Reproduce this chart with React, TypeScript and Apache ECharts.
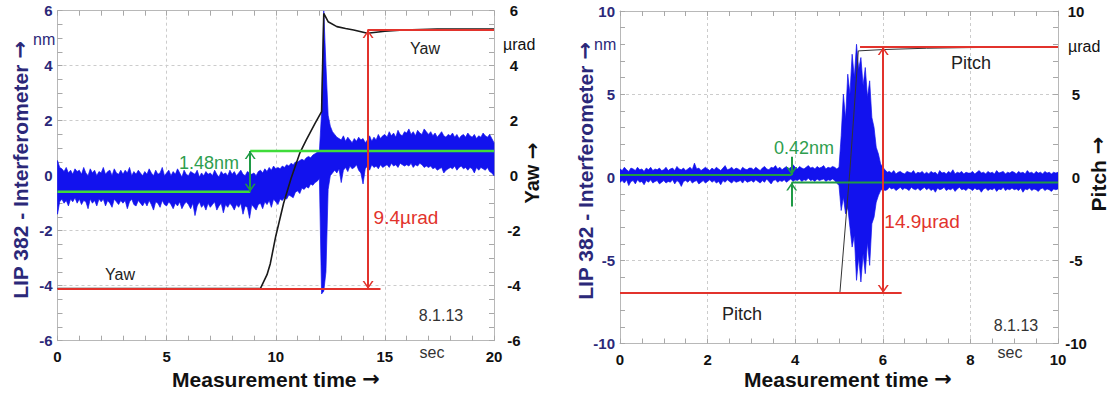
import React, { useEffect, useRef } from 'react';
import * as echarts from 'echarts';

const FONT = '"Liberation Sans", Arial, Helvetica, sans-serif';
const ARROW_FONT = '"DejaVu Sans", sans-serif';
const NAVY = '#2b2879';
const BLUE = '#1212ee';
const RED = '#e2332c';
const LIME = '#3fdc3a';
const DKGREEN = '#1f9a45';
const GRID_C = '#cccccc';
const AXIS_C = '#b8b8b8';
const TICK_C = '#a8a8a8';

// ---------- Left chart (Yaw), sampled every 0.1 s ----------
const LEFT_STEP = 0.1;
const LEFT_HI = [
  0.55, 0.3, 0.25, 0.15, 0.3, 0.1, 0.2, 0.05, 0.25, 0.15,
  0.2, 0.05, 0.3, 0.1, 0.0, 0.25, 0.1, 0.2, 0.0, 0.15,
  0.1, 0.3, 0.05, 0.15, 0.2, 0.0, 0.25, 0.1, 0.05, 0.2,
  0.05, 0.2, 0.1, 0.3, 0.0, 0.15, 0.05, 0.2, 0.1, 0.0,
  0.15, 0.05, 0.25, 0.1, 0.0, 0.2, 0.05, 0.1, 0.3, 0.0,
  0.1, 0.2, 0.0, 0.15, 0.05, 0.25, 0.1, -0.05, 0.2, 0.05,
  0.0, 0.15, 0.1, 0.05, 0.2, -0.05, 0.1, 0.0, 0.15, 0.05,
  0.1, 0.0, 0.2, 0.05, -0.05, 0.15, 0.05, 0.1, 0.0, 0.2,
  0.05, 0.15, 0.0, 0.1, 0.2, 0.05, 0.0, 0.15, 0.1, 0.05,
  0.1, 0.0, 0.15, 0.2, 0.1, 0.25, 0.15, 0.3, 0.2, 0.35,
  0.25, 0.3, 0.25, 0.35, 0.3, 0.4, 0.35, 0.45, 0.4, 0.5,
  0.5, 0.55, 0.6, 0.55, 0.65, 0.7, 0.65, 0.75, 0.8, 0.85,
  0.9, 2.3, 6.0, 4.0, 2.2, 1.8, 1.6, 1.5, 1.4, 1.35,
  1.3, 1.45, 1.25, 1.4, 1.3, 1.2, 1.35, 1.25, 1.4, 1.3,
  1.35, 1.2, 1.3, 1.45, 1.25, 1.4, 1.3, 1.5, 1.35, 1.45,
  1.5, 1.4, 1.6, 1.45, 1.55, 1.4, 1.65, 1.5, 1.45, 1.6,
  1.55, 1.7, 1.5, 1.6, 1.45, 1.65, 1.55, 1.5, 1.7, 1.6,
  1.5, 1.6, 1.45, 1.55, 1.4, 1.5, 1.6, 1.45, 1.4, 1.5,
  1.45, 1.55, 1.4, 1.5, 1.35, 1.45, 1.5, 1.4, 1.55, 1.45,
  1.4, 1.5, 1.35, 1.45, 1.4, 1.55, 1.45, 1.4, 1.5, 1.35,
  1.2,
];
const LEFT_LO = [
  -1.4, -0.95, -0.85, -1.0, -0.9, -1.1, -0.85, -0.95, -0.8, -1.0,
  -0.85, -1.05, -0.9, -0.95, -1.2, -0.85, -1.0, -0.9, -1.1, -0.85,
  -0.95, -0.85, -1.1, -0.9, -1.0, -1.15, -0.85, -0.95, -1.05, -0.9,
  -1.0, -0.9, -1.2, -0.95, -0.85, -1.05, -1.1, -0.9, -1.0, -1.1,
  -0.95, -1.1, -0.9, -1.05, -1.25, -0.95, -1.0, -1.15, -0.9, -1.05,
  -1.1, -0.95, -1.05, -1.2, -1.0, -1.1, -0.95, -1.2, -1.05, -0.95,
  -1.05, -1.2, -1.0, -1.45, -1.1, -0.95, -1.15, -1.05, -1.25, -1.0,
  -1.15, -1.05, -0.95, -1.25, -1.1, -1.0, -1.35, -1.05, -1.15, -1.0,
  -1.1, -1.25, -1.05, -1.15, -1.0, -1.4, -1.1, -1.15, -1.55, -1.05,
  -1.15, -1.25, -1.05, -1.0, -1.2, -0.95, -1.05, -0.9, -1.15, -0.85,
  -0.95, -1.05, -0.85, -0.9, -0.8, -0.85, -0.7, -0.75, -0.8, -0.6,
  -0.55, -0.65, -0.45, -0.5, -0.4, -0.45, -0.3, -0.35, -0.25, -0.2,
  -0.1, -4.3, -4.2, -3.5, -0.5, 0.0, 0.1, 0.2, 0.1, 0.25,
  -0.25, 0.2, 0.3, 0.15, 0.35, 0.25, 0.3, 0.4, 0.2, 0.1,
  -0.3, 0.25, 0.35, 0.2, 0.4, 0.3, 0.35, 0.25, 0.4, 0.3,
  0.35, 0.4, 0.3, 0.45, 0.35, 0.4, 0.3, 0.45, 0.4, 0.35,
  0.4, 0.35, 0.45, 0.3, 0.4, 0.35, 0.45, 0.4, 0.3, 0.35,
  0.3, 0.35, 0.25, 0.3, 0.2, 0.25, 0.3, 0.1, 0.2, 0.25,
  0.3, 0.25, 0.35, 0.2, 0.3, 0.35, 0.25, 0.3, 0.2, 0.3,
  0.25, 0.1, 0.3, 0.2, 0.3, 0.25, 0.2, 0.3, 0.15, 0.1,
  0.0,
];
// Yaw angle (µrad) trace
const YAW = [
  [0, -4.1], [9.3, -4.1], [9.6, -3.6], [9.75, -3.2], [10.0, -2.2], [10.36, -1.0],
  [10.7, -0.1], [11.1, 0.82], [11.4, 1.3], [11.8, 1.9], [12.1, 2.33], [12.2, 5.9],
  [12.4, 5.6], [12.8, 5.42], [13.2, 5.35], [13.57, 5.3], [14.2, 5.18], [15.0, 5.25],
  [15.86, 5.3], [17.4, 5.33], [20, 5.33],
];
const YAW_LOW = -4.12;
const YAW_HIGH = 5.3;
const YAW_LOW_END = 14.8;
const YAW_HIGH_START = 14.2;
const YAW_ARROW_X = 14.23;
const NM_LEFT_BEFORE = -0.58;
const NM_LEFT_AFTER = 0.9;
const NM_LEFT_X = 8.83;

// ---------- Right chart (Pitch), sampled every 0.05 s ----------
const RIGHT_STEP = 0.05;
const RIGHT_HI = [
  0.5, 0.4, 0.6, 0.45, 0.35, 0.55, 0.5, 0.4, 0.6, 0.45, 0.5, 0.35, 0.55, 0.45, 0.6, 0.4, 0.5, 0.45, 0.55, 0.4,
  0.45, 0.6, 0.4, 0.5, 0.55, 0.4, 0.65, 0.5, 0.45, 0.55, 0.4, 0.5, 0.6, 0.45, 0.85, 0.5, 0.55, 0.4, 0.5, 0.6,
  0.5, 0.4, 0.55, 0.45, 0.6, 0.5, 0.4, 0.55, 0.7, 0.45, 0.5, 0.6, 0.45, 0.55, 0.5, 0.4, 0.6, 0.5, 0.45, 0.55,
  0.55, 0.45, 0.6, 0.5, 0.4, 0.55, 0.65, 0.5, 0.45, 0.6, 0.55, 0.7, 0.5, 0.6, 0.45, 0.55, 0.65, 0.5, 0.6, 0.75,
  0.6, 0.5, 0.65, 0.55, 0.5, 0.6, 0.7, 0.55, 0.6, 0.5, 0.65, 0.55, 0.6, 0.7, 0.5, 0.6, 0.55, 0.65, 0.6, 0.5,
  0.6, 2.5, 5.0, 3.5, 6.2, 5.0, 7.4, 6.0, 8.0, 6.5, 7.2, 5.5, 6.6, 4.8, 5.8, 3.6, 3.0, 1.8, 1.4, 0.8,
  0.6, 0.45, 0.3, 0.35, 0.25, 0.4, 0.2, 0.3, 0.35, 0.25, 0.2, 0.35, 0.3, 0.25, 0.4, 0.2, 0.3, 0.25, 0.35, 0.2,
  0.3, 0.2, 0.35, 0.25, 0.3, 0.15, 0.4, 0.25, 0.3, 0.2, 0.35, 0.25, 0.45, 0.2, 0.3, 0.25, 0.35, 0.2, 0.3, 0.25,
  0.25, 0.35, 0.2, 0.3, 0.4, 0.25, 0.3, 0.2, 0.35, 0.25, 0.3, 0.2, 0.4, 0.25, 0.3, 0.35, 0.2, 0.3, 0.25, 0.35,
  0.3, 0.2, 0.35, 0.25, 0.3, 0.2, 0.4, 0.25, 0.3, 0.2, 0.35, 0.25, 0.3, 0.2, 0.35, 0.25, 0.3, 0.2, 0.3, 0.25,
  0.3,
];
const RIGHT_LO = [
  -0.3, -0.2, -0.35, -0.15, -0.5, -0.25, -0.2, -0.4, -0.15, -0.3, -0.25, -0.45, -0.2, -0.3, -0.15, -0.35, -0.25, -0.2, -0.4, -0.3,
  -0.2, -0.35, -0.25, -0.3, -0.15, -0.4, -0.2, -0.3, -0.55, -0.25, -0.2, -0.3, -0.15, -0.35, -0.25, -0.2, -0.4, -0.3, -0.2, -0.35,
  -0.25, -0.15, -0.3, -0.2, -0.35, -0.25, -0.45, -0.2, -0.3, -0.15, -0.25, -0.35, -0.2, -0.3, -0.25, -0.2, -0.35, -0.15, -0.3, -0.25,
  -0.2, -0.3, -0.15, -0.25, -0.35, -0.2, -0.3, -0.1, -0.25, -0.4, -0.2, -0.15, -0.3, -0.2, -0.25, -0.15, -0.3, -0.2, -0.1, -0.25,
  -0.15, -0.2, -0.1, -0.25, -0.15, -0.2, -0.05, -0.2, -0.15, -0.25, -0.1, -0.2, -0.15, -0.1, -0.25, -0.15, -0.2, -0.1, -0.2, -0.35,
  -0.5, -2.0, -1.2, -2.2, -1.8, -3.0, -4.2, -3.5, -6.2, -4.8, -6.3, -4.6, -5.8, -3.9, -5.3, -2.8, -2.4, -1.5, -1.1, -0.8,
  -0.7, -0.8, -0.75, -0.6, -0.7, -0.65, -0.8, -0.7, -0.6, -0.75, -0.65, -0.7, -0.8, -0.6, -0.7, -0.75, -0.65, -0.8, -0.7, -0.6,
  -0.75, -0.65, -0.8, -0.7, -0.9, -0.65, -0.75, -0.7, -0.6, -0.8, -0.7, -0.75, -0.65, -0.85, -0.7, -0.6, -0.75, -0.7, -0.8, -0.65,
  -0.7, -0.8, -0.65, -0.75, -0.7, -0.9, -0.7, -0.65, -0.8, -0.7, -0.75, -0.65, -0.85, -0.7, -0.75, -0.6, -0.8, -0.7, -0.75, -0.65,
  -0.75, -0.7, -0.8, -0.65, -0.9, -0.7, -0.75, -0.65, -0.8, -0.7, -0.75, -0.85, -0.7, -0.65, -0.8, -0.7, -0.75, -0.85, -0.7, -0.75,
  -0.7,
];
// Pitch angle (µrad) trace
const PITCH = [
  [0, -6.96], [5.02, -6.96], [5.25, 0.44], [5.44, 7.6], [6.0, 7.68], [7.0, 7.76], [8.0, 7.8], [10, 7.84],
];
const PITCH_LOW = -6.96;
const PITCH_HIGH = 7.84;
const PITCH_LOW_END = 6.43;
const PITCH_HIGH_START = 5.48;
const PITCH_ARROW_X = 6.01;
const NM_RIGHT_BEFORE = 0.14;
const NM_RIGHT_AFTER = -0.32;
const NM_RIGHT_X = 3.92;

const X_TICKS_LEFT = { min: 0, max: 20, interval: 5, minor: 5 };
const Y_TICKS_LEFT = { min: -6, max: 6, interval: 2, minor: 4 };
const X_TICKS_RIGHT = { min: 0, max: 10, interval: 2, minor: 4 };
const Y_TICKS_RIGHT = { min: -10, max: 10, interval: 5, minor: 5 };

const CHEV = 'path://M0,16 L5.5,8 L11,16 L9.2,16 L5.5,10.6 L1.8,16 Z M5.5,0 L5.6,0.1 L5.4,0.1 Z';

function band(hi: number[], lo: number[], step: number) {
  return hi.map((h, i) => [+(i * step).toFixed(3), lo[i], h]);
}

const axisLine = { show: true, onZero: false, lineStyle: { color: AXIS_C, width: 1 } };
const axisTick = { show: true, inside: true, length: 5, lineStyle: { color: TICK_C } };
const minorTick = (n: number) => ({ show: true, splitNumber: n, length: 5, lineStyle: { color: TICK_C } });
const splitLine = { show: true, lineStyle: { color: GRID_C, type: [3, 3], width: 1 } };
const labelFont = { fontFamily: FONT, fontWeight: 'bold', fontSize: 15 };

function xAxes(grid: number, t: any) {
  return [
    {
      type: 'value', gridIndex: grid, position: 'bottom', min: t.min, max: t.max, interval: t.interval,
      axisLine, axisTick, minorTick: minorTick(t.minor), splitLine,
      axisLabel: { ...labelFont, color: '#111', margin: 8 },
    },
    {
      type: 'value', gridIndex: grid, position: 'top', min: t.min, max: t.max, interval: t.interval,
      axisLine, axisTick, minorTick: minorTick(t.minor), splitLine: { show: false },
      axisLabel: { show: false },
    },
  ];
}
function yAxes(grid: number, t: any, rightMargin: number) {
  return [
    {
      type: 'value', gridIndex: grid, position: 'left', min: t.min, max: t.max, interval: t.interval,
      axisLine, axisTick, minorTick: minorTick(t.minor), splitLine,
      axisLabel: { ...labelFont, color: NAVY, margin: 5 },
    },
    {
      type: 'value', gridIndex: grid, position: 'right', min: t.min, max: t.max, interval: t.interval,
      axisLine, axisTick, minorTick: minorTick(t.minor), splitLine: { show: false },
      axisLabel: { ...labelFont, color: '#111', margin: rightMargin, align: 'center' },
    },
  ];
}

function seg(xi: number, yi: number, data: number[][], color: string, width: number, z: number, markLine?: any) {
  return {
    type: 'line', xAxisIndex: xi, yAxisIndex: yi, data, showSymbol: false, symbol: 'none', z,
    lineStyle: { color, width }, silent: true, animation: false,
    ...(markLine ? { markLine } : {}),
  };
}
function arrow(x: number, y1: number, y2: number, color: string, both: boolean) {
  return {
    silent: true, animation: false, symbol: [both ? CHEV : 'none', CHEV], symbolSize: [11, 16],
    lineStyle: { color, width: 2, type: 'solid' }, label: { show: false }, emphasis: { disabled: true },
    data: [[{ coord: [x, y1] }, { coord: [x, y2] }]],
  };
}
// Noise envelope drawn as one polygon: upper values left-to-right, lower values back.
function bandSeries(xi: number, yi: number, data: number[][]) {
  return {
    type: 'custom', xAxisIndex: xi, yAxisIndex: yi, data, z: 1, clip: true, silent: true,
    renderItem: (params: any, api: any) => {
      if (params.dataIndex !== 0) return null;
      const top = data.map((d) => api.coord([d[0], d[2]]));
      const bot = data.map((d) => api.coord([d[0], d[1]])).reverse();
      return {
        type: 'polygon', shape: { points: top.concat(bot) },
        style: { fill: BLUE, stroke: BLUE, lineWidth: 0.7, lineJoin: 'miter' },
      };
    },
  };
}

function txt(text: string, x: number, y: number, font: string, fill: string, rot = 0, align = 'center') {
  return {
    type: 'text', x, y, rotation: rot, silent: true, z: 100,
    style: { text, font, fill, align, verticalAlign: 'middle' },
  };
}
function arrowTxt(text: string, x: number, y: number, size: number, fill: string, rot: number) {
  return {
    type: 'text', x, y, rotation: rot, silent: true, z: 100,
    style: {
      text: `{a|${text} }{b|\u2192}`, align: 'center', verticalAlign: 'middle',
      rich: {
        a: { fontFamily: FONT, fontWeight: 'bold', fontSize: size, fill },
        b: { fontFamily: ARROW_FONT, fontWeight: 'bold', fontSize: size, fill },
      },
    },
  };
}

export default function App() {
  const ref = useRef<HTMLDivElement>(null);
  useEffect(() => {
    const chart = echarts.init(ref.current!, null, { renderer: 'svg' });
    const R = Math.PI / 2;
    const option: any = {
      animation: false,
      backgroundColor: '#ffffff',
      textStyle: { fontFamily: FONT },
      grid: [
        { left: 57.5, top: 10.7, width: 436.5, height: 330, containLabel: false },
        { left: 620, top: 11, width: 438, height: 332.5, containLabel: false },
      ],
      xAxis: [...xAxes(0, X_TICKS_LEFT), ...xAxes(1, X_TICKS_RIGHT)],
      yAxis: [...yAxes(0, Y_TICKS_LEFT, 20), ...yAxes(1, Y_TICKS_RIGHT, 18)],
      series: [
        bandSeries(0, 0, band(LEFT_HI, LEFT_LO, LEFT_STEP)),
        seg(0, 1, YAW, '#1a1a1a', 1.6, 2),
        seg(0, 1, [[0, YAW_LOW], [YAW_LOW_END, YAW_LOW]], RED, 2, 3,
          arrow(YAW_ARROW_X, YAW_LOW, YAW_HIGH, RED, true)),
        seg(0, 1, [[YAW_HIGH_START, YAW_HIGH], [20, YAW_HIGH]], RED, 2, 3),
        seg(0, 0, [[0, NM_LEFT_BEFORE], [NM_LEFT_X, NM_LEFT_BEFORE]], LIME, 2.5, 4,
          arrow(NM_LEFT_X, NM_LEFT_BEFORE, NM_LEFT_AFTER, DKGREEN, true)),
        seg(0, 0, [[NM_LEFT_X, NM_LEFT_AFTER], [20, NM_LEFT_AFTER]], LIME, 2.5, 4),

        bandSeries(2, 2, band(RIGHT_HI, RIGHT_LO, RIGHT_STEP)),
        seg(2, 3, PITCH, '#333333', 1, 2),
        seg(2, 3, [[0, PITCH_LOW], [PITCH_LOW_END, PITCH_LOW]], RED, 2, 3,
          arrow(PITCH_ARROW_X, PITCH_LOW, PITCH_HIGH, RED, true)),
        seg(2, 3, [[PITCH_HIGH_START, PITCH_HIGH], [10, PITCH_HIGH]], RED, 2, 3),
        seg(2, 2, [[0, NM_RIGHT_BEFORE], [NM_RIGHT_X, NM_RIGHT_BEFORE]], DKGREEN, 2, 4,
          arrow(NM_RIGHT_X, NM_RIGHT_BEFORE + 1.1, NM_RIGHT_BEFORE, DKGREEN, false)),
        seg(2, 2, [[NM_RIGHT_X, NM_RIGHT_AFTER], [10, NM_RIGHT_AFTER]], DKGREEN, 2, 4,
          arrow(NM_RIGHT_X, NM_RIGHT_AFTER - 1.44, NM_RIGHT_AFTER, DKGREEN, false)),
      ],
      graphic: [
        arrowTxt('LIP 382 - Interferometer', 20, 170, 21, NAVY, R),
        txt('nm', 33, 39, `16px ${FONT}`, NAVY, 0, 'left'),
        txt('\u00b5rad', 503, 44, `16px ${FONT}`, '#111', 0, 'left'),
        arrowTxt('Yaw', 532, 173, 20, '#111', R),
        arrowTxt('Measurement time', 276, 379, 21, '#111', 0),
        txt('sec', 432, 352, `16px ${FONT}`, '#333'),
        txt('8.1.13', 441, 315, `16px ${FONT}`, '#333'),
        txt('Yaw', 120, 274, `16px ${FONT}`, '#222'),
        txt('Yaw', 425, 48, `16px ${FONT}`, '#222'),
        txt('9.4\u00b5rad', 406, 217, `19px ${FONT}`, RED),
        txt('1.48nm', 209, 163, `18px ${FONT}`, '#2e9e4e'),

        arrowTxt('LIP 382 - Interferometer', 585, 171, 21, NAVY, R),
        txt('nm', 594, 44, `16px ${FONT}`, NAVY, 0, 'left'),
        txt('\u00b5rad', 1068, 46, `16px ${FONT}`, '#111', 0, 'left'),
        arrowTxt('Pitch', 1098, 174, 21, '#111', R),
        arrowTxt('Measurement time', 848, 379, 21, '#111', 0),
        txt('sec', 1010, 352, `16px ${FONT}`, '#333'),
        txt('8.1.13', 1016, 325, `16px ${FONT}`, '#333'),
        txt('Pitch', 971, 63, `18px ${FONT}`, '#222'),
        txt('Pitch', 742, 314, `18px ${FONT}`, '#222'),
        txt('14.9\u00b5rad', 922, 221, `19px ${FONT}`, RED),
        txt('0.42nm', 804, 148, `18px ${FONT}`, '#2e9e4e'),
      ],
    };
    chart.setOption(option);
    return () => chart.dispose();
  }, []);
  return <div ref={ref} style={{ position: 'absolute', left: 0, top: 0, width: 1112, height: 394 }} />;
}
